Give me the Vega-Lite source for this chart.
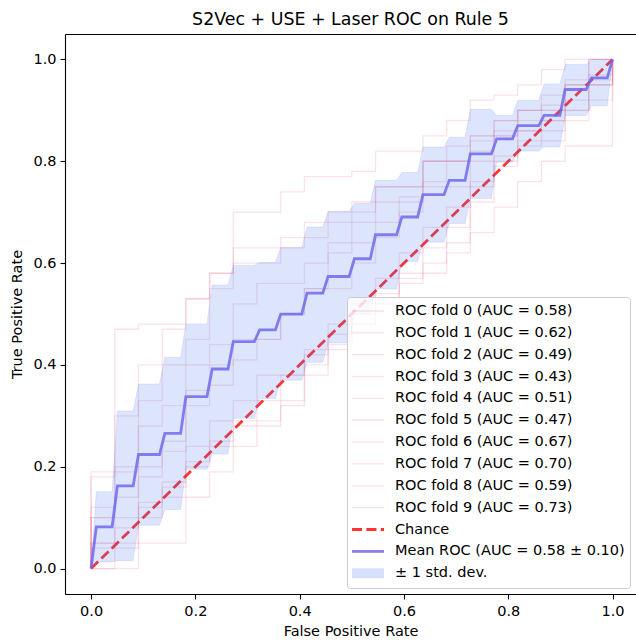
{
  "$schema": "https://vega.github.io/schema/vega-lite/v6.json",
  "width": 571,
  "height": 560,
  "autosize": "none",
  "padding": {"left": 65, "top": 34, "right": 0, "bottom": 46},
  "background": "white",
  "title": {"text": "S2Vec + USE + Laser ROC on Rule 5", "fontSize": 17.4, "font": "DejaVu Sans", "fontWeight": "normal", "color": "black", "anchor": "middle", "frame": "group", "baseline": "alphabetic", "offset": -8},
  "config": {
    "font": "DejaVu Sans",
    "view": {"stroke": null},
    "axis": {"grid": false, "tickSize": 5, "tickWidth": 1.1, "tickColor": "black", "domainColor": "black", "domainWidth": 1.1, "labelFontSize": 14.5, "titleFontSize": 14.5, "titleFontWeight": "normal", "labelColor": "black", "titleColor": "black", "labelPadding": 4, "titlePadding": 6, "labelFont": "DejaVu Sans", "titleFont": "DejaVu Sans"}
  },
  "datasets": {
    "folds": [
      {"f":"ROC fold 0 (AUC = 0.58)","i":0,"x":0,"y":0},{"f":"ROC fold 0 (AUC = 0.58)","i":1,"x":0,"y":0.10},{"f":"ROC fold 0 (AUC = 0.58)","i":2,"x":0.0455,"y":0.10},{"f":"ROC fold 0 (AUC = 0.58)","i":3,"x":0.0909,"y":0.20},{"f":"ROC fold 0 (AUC = 0.58)","i":4,"x":0.1364,"y":0.25},{"f":"ROC fold 0 (AUC = 0.58)","i":5,"x":0.1818,"y":0.35},{"f":"ROC fold 0 (AUC = 0.58)","i":6,"x":0.2273,"y":0.40},{"f":"ROC fold 0 (AUC = 0.58)","i":7,"x":0.2727,"y":0.45},{"f":"ROC fold 0 (AUC = 0.58)","i":8,"x":0.3182,"y":0.45},{"f":"ROC fold 0 (AUC = 0.58)","i":9,"x":0.3636,"y":0.50},{"f":"ROC fold 0 (AUC = 0.58)","i":10,"x":0.4091,"y":0.55},{"f":"ROC fold 0 (AUC = 0.58)","i":11,"x":0.4545,"y":0.55},{"f":"ROC fold 0 (AUC = 0.58)","i":12,"x":0.5,"y":0.60},{"f":"ROC fold 0 (AUC = 0.58)","i":13,"x":0.5455,"y":0.65},{"f":"ROC fold 0 (AUC = 0.58)","i":14,"x":0.5909,"y":0.70},{"f":"ROC fold 0 (AUC = 0.58)","i":15,"x":0.6364,"y":0.75},{"f":"ROC fold 0 (AUC = 0.58)","i":16,"x":0.6818,"y":0.75},{"f":"ROC fold 0 (AUC = 0.58)","i":17,"x":0.7273,"y":0.80},{"f":"ROC fold 0 (AUC = 0.58)","i":18,"x":0.7727,"y":0.85},{"f":"ROC fold 0 (AUC = 0.58)","i":19,"x":0.8182,"y":0.90},{"f":"ROC fold 0 (AUC = 0.58)","i":20,"x":0.8636,"y":0.90},{"f":"ROC fold 0 (AUC = 0.58)","i":21,"x":0.9091,"y":0.90},{"f":"ROC fold 0 (AUC = 0.58)","i":22,"x":0.9545,"y":0.95},{"f":"ROC fold 0 (AUC = 0.58)","i":23,"x":1,"y":1},
      {"f":"ROC fold 1 (AUC = 0.62)","i":0,"x":0,"y":0},{"f":"ROC fold 1 (AUC = 0.62)","i":1,"x":0,"y":0.12},{"f":"ROC fold 1 (AUC = 0.62)","i":2,"x":0.0455,"y":0.20},{"f":"ROC fold 1 (AUC = 0.62)","i":3,"x":0.0909,"y":0.28},{"f":"ROC fold 1 (AUC = 0.62)","i":4,"x":0.1364,"y":0.32},{"f":"ROC fold 1 (AUC = 0.62)","i":5,"x":0.1818,"y":0.40},{"f":"ROC fold 1 (AUC = 0.62)","i":6,"x":0.2273,"y":0.44},{"f":"ROC fold 1 (AUC = 0.62)","i":7,"x":0.2727,"y":0.52},{"f":"ROC fold 1 (AUC = 0.62)","i":8,"x":0.3182,"y":0.56},{"f":"ROC fold 1 (AUC = 0.62)","i":9,"x":0.3636,"y":0.56},{"f":"ROC fold 1 (AUC = 0.62)","i":10,"x":0.4091,"y":0.60},{"f":"ROC fold 1 (AUC = 0.62)","i":11,"x":0.4545,"y":0.64},{"f":"ROC fold 1 (AUC = 0.62)","i":12,"x":0.5,"y":0.68},{"f":"ROC fold 1 (AUC = 0.62)","i":13,"x":0.5455,"y":0.72},{"f":"ROC fold 1 (AUC = 0.62)","i":14,"x":0.5909,"y":0.72},{"f":"ROC fold 1 (AUC = 0.62)","i":15,"x":0.6364,"y":0.76},{"f":"ROC fold 1 (AUC = 0.62)","i":16,"x":0.6818,"y":0.80},{"f":"ROC fold 1 (AUC = 0.62)","i":17,"x":0.7273,"y":0.84},{"f":"ROC fold 1 (AUC = 0.62)","i":18,"x":0.7727,"y":0.88},{"f":"ROC fold 1 (AUC = 0.62)","i":19,"x":0.8182,"y":0.88},{"f":"ROC fold 1 (AUC = 0.62)","i":20,"x":0.8636,"y":0.88},{"f":"ROC fold 1 (AUC = 0.62)","i":21,"x":0.9091,"y":0.96},{"f":"ROC fold 1 (AUC = 0.62)","i":22,"x":0.9545,"y":1.0},{"f":"ROC fold 1 (AUC = 0.62)","i":23,"x":1,"y":1},
      {"f":"ROC fold 2 (AUC = 0.49)","i":0,"x":0,"y":0},{"f":"ROC fold 2 (AUC = 0.49)","i":1,"x":0,"y":0.04},{"f":"ROC fold 2 (AUC = 0.49)","i":2,"x":0.0455,"y":0.08},{"f":"ROC fold 2 (AUC = 0.49)","i":3,"x":0.0909,"y":0.13},{"f":"ROC fold 2 (AUC = 0.49)","i":4,"x":0.1364,"y":0.17},{"f":"ROC fold 2 (AUC = 0.49)","i":5,"x":0.1818,"y":0.21},{"f":"ROC fold 2 (AUC = 0.49)","i":6,"x":0.2273,"y":0.25},{"f":"ROC fold 2 (AUC = 0.49)","i":7,"x":0.2727,"y":0.29},{"f":"ROC fold 2 (AUC = 0.49)","i":8,"x":0.3182,"y":0.33},{"f":"ROC fold 2 (AUC = 0.49)","i":9,"x":0.3636,"y":0.38},{"f":"ROC fold 2 (AUC = 0.49)","i":10,"x":0.4091,"y":0.42},{"f":"ROC fold 2 (AUC = 0.49)","i":11,"x":0.4545,"y":0.46},{"f":"ROC fold 2 (AUC = 0.49)","i":12,"x":0.5,"y":0.50},{"f":"ROC fold 2 (AUC = 0.49)","i":13,"x":0.5455,"y":0.54},{"f":"ROC fold 2 (AUC = 0.49)","i":14,"x":0.5909,"y":0.58},{"f":"ROC fold 2 (AUC = 0.49)","i":15,"x":0.6364,"y":0.63},{"f":"ROC fold 2 (AUC = 0.49)","i":16,"x":0.6818,"y":0.67},{"f":"ROC fold 2 (AUC = 0.49)","i":17,"x":0.7273,"y":0.75},{"f":"ROC fold 2 (AUC = 0.49)","i":18,"x":0.7727,"y":0.79},{"f":"ROC fold 2 (AUC = 0.49)","i":19,"x":0.8182,"y":0.83},{"f":"ROC fold 2 (AUC = 0.49)","i":20,"x":0.8636,"y":0.88},{"f":"ROC fold 2 (AUC = 0.49)","i":21,"x":0.9091,"y":0.92},{"f":"ROC fold 2 (AUC = 0.49)","i":22,"x":0.9545,"y":0.96},{"f":"ROC fold 2 (AUC = 0.49)","i":23,"x":1,"y":1},
      {"f":"ROC fold 3 (AUC = 0.43)","i":0,"x":0,"y":0},{"f":"ROC fold 3 (AUC = 0.43)","i":1,"x":0,"y":0},{"f":"ROC fold 3 (AUC = 0.43)","i":2,"x":0.0455,"y":0},{"f":"ROC fold 3 (AUC = 0.43)","i":3,"x":0.0909,"y":0.05},{"f":"ROC fold 3 (AUC = 0.43)","i":4,"x":0.1364,"y":0.05},{"f":"ROC fold 3 (AUC = 0.43)","i":5,"x":0.1818,"y":0.14},{"f":"ROC fold 3 (AUC = 0.43)","i":6,"x":0.2273,"y":0.19},{"f":"ROC fold 3 (AUC = 0.43)","i":7,"x":0.2727,"y":0.24},{"f":"ROC fold 3 (AUC = 0.43)","i":8,"x":0.3182,"y":0.29},{"f":"ROC fold 3 (AUC = 0.43)","i":9,"x":0.3636,"y":0.33},{"f":"ROC fold 3 (AUC = 0.43)","i":10,"x":0.4091,"y":0.38},{"f":"ROC fold 3 (AUC = 0.43)","i":11,"x":0.4545,"y":0.43},{"f":"ROC fold 3 (AUC = 0.43)","i":12,"x":0.5,"y":0.48},{"f":"ROC fold 3 (AUC = 0.43)","i":13,"x":0.5455,"y":0.52},{"f":"ROC fold 3 (AUC = 0.43)","i":14,"x":0.5909,"y":0.57},{"f":"ROC fold 3 (AUC = 0.43)","i":15,"x":0.6364,"y":0.58},{"f":"ROC fold 3 (AUC = 0.43)","i":16,"x":0.6818,"y":0.62},{"f":"ROC fold 3 (AUC = 0.43)","i":17,"x":0.7273,"y":0.66},{"f":"ROC fold 3 (AUC = 0.43)","i":18,"x":0.7727,"y":0.71},{"f":"ROC fold 3 (AUC = 0.43)","i":19,"x":0.8182,"y":0.76},{"f":"ROC fold 3 (AUC = 0.43)","i":20,"x":0.8636,"y":0.80},{"f":"ROC fold 3 (AUC = 0.43)","i":21,"x":0.9091,"y":0.83},{"f":"ROC fold 3 (AUC = 0.43)","i":22,"x":0.9545,"y":0.83},{"f":"ROC fold 3 (AUC = 0.43)","i":23,"x":1,"y":1},
      {"f":"ROC fold 4 (AUC = 0.51)","i":0,"x":0,"y":0},{"f":"ROC fold 4 (AUC = 0.51)","i":1,"x":0,"y":0.05},{"f":"ROC fold 4 (AUC = 0.51)","i":2,"x":0.0455,"y":0.05},{"f":"ROC fold 4 (AUC = 0.51)","i":3,"x":0.0909,"y":0.10},{"f":"ROC fold 4 (AUC = 0.51)","i":4,"x":0.1364,"y":0.14},{"f":"ROC fold 4 (AUC = 0.51)","i":5,"x":0.1818,"y":0.24},{"f":"ROC fold 4 (AUC = 0.51)","i":6,"x":0.2273,"y":0.29},{"f":"ROC fold 4 (AUC = 0.51)","i":7,"x":0.2727,"y":0.33},{"f":"ROC fold 4 (AUC = 0.51)","i":8,"x":0.3182,"y":0.38},{"f":"ROC fold 4 (AUC = 0.51)","i":9,"x":0.3636,"y":0.38},{"f":"ROC fold 4 (AUC = 0.51)","i":10,"x":0.4091,"y":0.43},{"f":"ROC fold 4 (AUC = 0.51)","i":11,"x":0.4545,"y":0.48},{"f":"ROC fold 4 (AUC = 0.51)","i":12,"x":0.5,"y":0.52},{"f":"ROC fold 4 (AUC = 0.51)","i":13,"x":0.5455,"y":0.57},{"f":"ROC fold 4 (AUC = 0.51)","i":14,"x":0.5909,"y":0.62},{"f":"ROC fold 4 (AUC = 0.51)","i":15,"x":0.6364,"y":0.67},{"f":"ROC fold 4 (AUC = 0.51)","i":16,"x":0.6818,"y":0.71},{"f":"ROC fold 4 (AUC = 0.51)","i":17,"x":0.7273,"y":0.76},{"f":"ROC fold 4 (AUC = 0.51)","i":18,"x":0.7727,"y":0.81},{"f":"ROC fold 4 (AUC = 0.51)","i":19,"x":0.8182,"y":0.86},{"f":"ROC fold 4 (AUC = 0.51)","i":20,"x":0.8636,"y":0.86},{"f":"ROC fold 4 (AUC = 0.51)","i":21,"x":0.9091,"y":0.90},{"f":"ROC fold 4 (AUC = 0.51)","i":22,"x":0.9545,"y":0.95},{"f":"ROC fold 4 (AUC = 0.51)","i":23,"x":1,"y":1},
      {"f":"ROC fold 5 (AUC = 0.47)","i":0,"x":0,"y":0},{"f":"ROC fold 5 (AUC = 0.47)","i":1,"x":0,"y":0},{"f":"ROC fold 5 (AUC = 0.47)","i":2,"x":0.0455,"y":0.04},{"f":"ROC fold 5 (AUC = 0.47)","i":3,"x":0.0909,"y":0.12},{"f":"ROC fold 5 (AUC = 0.47)","i":4,"x":0.1364,"y":0.16},{"f":"ROC fold 5 (AUC = 0.47)","i":5,"x":0.1818,"y":0.20},{"f":"ROC fold 5 (AUC = 0.47)","i":6,"x":0.2273,"y":0.24},{"f":"ROC fold 5 (AUC = 0.47)","i":7,"x":0.2727,"y":0.28},{"f":"ROC fold 5 (AUC = 0.47)","i":8,"x":0.3182,"y":0.28},{"f":"ROC fold 5 (AUC = 0.47)","i":9,"x":0.3636,"y":0.32},{"f":"ROC fold 5 (AUC = 0.47)","i":10,"x":0.4091,"y":0.40},{"f":"ROC fold 5 (AUC = 0.47)","i":11,"x":0.4545,"y":0.44},{"f":"ROC fold 5 (AUC = 0.47)","i":12,"x":0.5,"y":0.48},{"f":"ROC fold 5 (AUC = 0.47)","i":13,"x":0.5455,"y":0.52},{"f":"ROC fold 5 (AUC = 0.47)","i":14,"x":0.5909,"y":0.56},{"f":"ROC fold 5 (AUC = 0.47)","i":15,"x":0.6364,"y":0.60},{"f":"ROC fold 5 (AUC = 0.47)","i":16,"x":0.6818,"y":0.64},{"f":"ROC fold 5 (AUC = 0.47)","i":17,"x":0.7273,"y":0.72},{"f":"ROC fold 5 (AUC = 0.47)","i":18,"x":0.7727,"y":0.80},{"f":"ROC fold 5 (AUC = 0.47)","i":19,"x":0.8182,"y":0.84},{"f":"ROC fold 5 (AUC = 0.47)","i":20,"x":0.8636,"y":0.84},{"f":"ROC fold 5 (AUC = 0.47)","i":21,"x":0.9091,"y":0.88},{"f":"ROC fold 5 (AUC = 0.47)","i":22,"x":0.9545,"y":0.92},{"f":"ROC fold 5 (AUC = 0.47)","i":23,"x":1,"y":1},
      {"f":"ROC fold 6 (AUC = 0.67)","i":0,"x":0,"y":0},{"f":"ROC fold 6 (AUC = 0.67)","i":1,"x":0,"y":0.10},{"f":"ROC fold 6 (AUC = 0.67)","i":2,"x":0.0455,"y":0.30},{"f":"ROC fold 6 (AUC = 0.67)","i":3,"x":0.0909,"y":0.40},{"f":"ROC fold 6 (AUC = 0.67)","i":4,"x":0.1364,"y":0.40},{"f":"ROC fold 6 (AUC = 0.67)","i":5,"x":0.1818,"y":0.45},{"f":"ROC fold 6 (AUC = 0.67)","i":6,"x":0.2273,"y":0.55},{"f":"ROC fold 6 (AUC = 0.67)","i":7,"x":0.2727,"y":0.60},{"f":"ROC fold 6 (AUC = 0.67)","i":8,"x":0.3182,"y":0.60},{"f":"ROC fold 6 (AUC = 0.67)","i":9,"x":0.3636,"y":0.65},{"f":"ROC fold 6 (AUC = 0.67)","i":10,"x":0.4091,"y":0.65},{"f":"ROC fold 6 (AUC = 0.67)","i":11,"x":0.4545,"y":0.70},{"f":"ROC fold 6 (AUC = 0.67)","i":12,"x":0.5,"y":0.70},{"f":"ROC fold 6 (AUC = 0.67)","i":13,"x":0.5455,"y":0.75},{"f":"ROC fold 6 (AUC = 0.67)","i":14,"x":0.5909,"y":0.75},{"f":"ROC fold 6 (AUC = 0.67)","i":15,"x":0.6364,"y":0.80},{"f":"ROC fold 6 (AUC = 0.67)","i":16,"x":0.6818,"y":0.80},{"f":"ROC fold 6 (AUC = 0.67)","i":17,"x":0.7273,"y":0.85},{"f":"ROC fold 6 (AUC = 0.67)","i":18,"x":0.7727,"y":0.85},{"f":"ROC fold 6 (AUC = 0.67)","i":19,"x":0.8182,"y":0.90},{"f":"ROC fold 6 (AUC = 0.67)","i":20,"x":0.8636,"y":0.90},{"f":"ROC fold 6 (AUC = 0.67)","i":21,"x":0.9091,"y":0.95},{"f":"ROC fold 6 (AUC = 0.67)","i":22,"x":0.9545,"y":0.95},{"f":"ROC fold 6 (AUC = 0.67)","i":23,"x":1,"y":1},
      {"f":"ROC fold 7 (AUC = 0.70)","i":0,"x":0,"y":0},{"f":"ROC fold 7 (AUC = 0.70)","i":1,"x":0,"y":0.18},{"f":"ROC fold 7 (AUC = 0.70)","i":2,"x":0.0455,"y":0.47},{"f":"ROC fold 7 (AUC = 0.70)","i":3,"x":0.0909,"y":0.48},{"f":"ROC fold 7 (AUC = 0.70)","i":4,"x":0.1364,"y":0.48},{"f":"ROC fold 7 (AUC = 0.70)","i":5,"x":0.1818,"y":0.53},{"f":"ROC fold 7 (AUC = 0.70)","i":6,"x":0.2273,"y":0.58},{"f":"ROC fold 7 (AUC = 0.70)","i":7,"x":0.2727,"y":0.63},{"f":"ROC fold 7 (AUC = 0.70)","i":8,"x":0.3182,"y":0.63},{"f":"ROC fold 7 (AUC = 0.70)","i":9,"x":0.3636,"y":0.63},{"f":"ROC fold 7 (AUC = 0.70)","i":10,"x":0.4091,"y":0.68},{"f":"ROC fold 7 (AUC = 0.70)","i":11,"x":0.4545,"y":0.68},{"f":"ROC fold 7 (AUC = 0.70)","i":12,"x":0.5,"y":0.72},{"f":"ROC fold 7 (AUC = 0.70)","i":13,"x":0.5455,"y":0.75},{"f":"ROC fold 7 (AUC = 0.70)","i":14,"x":0.5909,"y":0.75},{"f":"ROC fold 7 (AUC = 0.70)","i":15,"x":0.6364,"y":0.80},{"f":"ROC fold 7 (AUC = 0.70)","i":16,"x":0.6818,"y":0.83},{"f":"ROC fold 7 (AUC = 0.70)","i":17,"x":0.7273,"y":0.85},{"f":"ROC fold 7 (AUC = 0.70)","i":18,"x":0.7727,"y":0.88},{"f":"ROC fold 7 (AUC = 0.70)","i":19,"x":0.8182,"y":0.90},{"f":"ROC fold 7 (AUC = 0.70)","i":20,"x":0.8636,"y":0.93},{"f":"ROC fold 7 (AUC = 0.70)","i":21,"x":0.9091,"y":0.95},{"f":"ROC fold 7 (AUC = 0.70)","i":22,"x":0.9545,"y":0.97},{"f":"ROC fold 7 (AUC = 0.70)","i":23,"x":1,"y":1},
      {"f":"ROC fold 8 (AUC = 0.59)","i":0,"x":0,"y":0},{"f":"ROC fold 8 (AUC = 0.59)","i":1,"x":0,"y":0.05},{"f":"ROC fold 8 (AUC = 0.59)","i":2,"x":0.0455,"y":0.14},{"f":"ROC fold 8 (AUC = 0.59)","i":3,"x":0.0909,"y":0.18},{"f":"ROC fold 8 (AUC = 0.59)","i":4,"x":0.1364,"y":0.23},{"f":"ROC fold 8 (AUC = 0.59)","i":5,"x":0.1818,"y":0.32},{"f":"ROC fold 8 (AUC = 0.59)","i":6,"x":0.2273,"y":0.36},{"f":"ROC fold 8 (AUC = 0.59)","i":7,"x":0.2727,"y":0.41},{"f":"ROC fold 8 (AUC = 0.59)","i":8,"x":0.3182,"y":0.45},{"f":"ROC fold 8 (AUC = 0.59)","i":9,"x":0.3636,"y":0.50},{"f":"ROC fold 8 (AUC = 0.59)","i":10,"x":0.4091,"y":0.55},{"f":"ROC fold 8 (AUC = 0.59)","i":11,"x":0.4545,"y":0.62},{"f":"ROC fold 8 (AUC = 0.59)","i":12,"x":0.5,"y":0.64},{"f":"ROC fold 8 (AUC = 0.59)","i":13,"x":0.5455,"y":0.68},{"f":"ROC fold 8 (AUC = 0.59)","i":14,"x":0.5909,"y":0.73},{"f":"ROC fold 8 (AUC = 0.59)","i":15,"x":0.6364,"y":0.80},{"f":"ROC fold 8 (AUC = 0.59)","i":16,"x":0.6818,"y":0.80},{"f":"ROC fold 8 (AUC = 0.59)","i":17,"x":0.7273,"y":0.82},{"f":"ROC fold 8 (AUC = 0.59)","i":18,"x":0.7727,"y":0.86},{"f":"ROC fold 8 (AUC = 0.59)","i":19,"x":0.8182,"y":0.86},{"f":"ROC fold 8 (AUC = 0.59)","i":20,"x":0.8636,"y":0.91},{"f":"ROC fold 8 (AUC = 0.59)","i":21,"x":0.9091,"y":0.95},{"f":"ROC fold 8 (AUC = 0.59)","i":22,"x":0.9545,"y":1.0},{"f":"ROC fold 8 (AUC = 0.59)","i":23,"x":1,"y":1},
      {"f":"ROC fold 9 (AUC = 0.73)","i":0,"x":0,"y":0},{"f":"ROC fold 9 (AUC = 0.73)","i":1,"x":0,"y":0.19},{"f":"ROC fold 9 (AUC = 0.73)","i":2,"x":0.0455,"y":0.19},{"f":"ROC fold 9 (AUC = 0.73)","i":3,"x":0.0909,"y":0.33},{"f":"ROC fold 9 (AUC = 0.73)","i":4,"x":0.1364,"y":0.47},{"f":"ROC fold 9 (AUC = 0.73)","i":5,"x":0.1818,"y":0.53},{"f":"ROC fold 9 (AUC = 0.73)","i":6,"x":0.2273,"y":0.58},{"f":"ROC fold 9 (AUC = 0.73)","i":7,"x":0.2727,"y":0.70},{"f":"ROC fold 9 (AUC = 0.73)","i":8,"x":0.3182,"y":0.70},{"f":"ROC fold 9 (AUC = 0.73)","i":9,"x":0.3636,"y":0.74},{"f":"ROC fold 9 (AUC = 0.73)","i":10,"x":0.4091,"y":0.77},{"f":"ROC fold 9 (AUC = 0.73)","i":11,"x":0.4545,"y":0.77},{"f":"ROC fold 9 (AUC = 0.73)","i":12,"x":0.5,"y":0.78},{"f":"ROC fold 9 (AUC = 0.73)","i":13,"x":0.5455,"y":0.82},{"f":"ROC fold 9 (AUC = 0.73)","i":14,"x":0.5909,"y":0.82},{"f":"ROC fold 9 (AUC = 0.73)","i":15,"x":0.6364,"y":0.85},{"f":"ROC fold 9 (AUC = 0.73)","i":16,"x":0.6818,"y":0.88},{"f":"ROC fold 9 (AUC = 0.73)","i":17,"x":0.7273,"y":0.92},{"f":"ROC fold 9 (AUC = 0.73)","i":18,"x":0.7727,"y":0.93},{"f":"ROC fold 9 (AUC = 0.73)","i":19,"x":0.8182,"y":0.95},{"f":"ROC fold 9 (AUC = 0.73)","i":20,"x":0.8636,"y":0.98},{"f":"ROC fold 9 (AUC = 0.73)","i":21,"x":0.9091,"y":1.0},{"f":"ROC fold 9 (AUC = 0.73)","i":22,"x":0.9545,"y":1.0},{"f":"ROC fold 9 (AUC = 0.73)","i":23,"x":1,"y":1}
    ],
    "mean": [
      {"x":0,"y":0},{"x":0.0101,"y":0.082},{"x":0.0404,"y":0.082},{"x":0.0505,"y":0.1625},{"x":0.0808,"y":0.1625},{"x":0.0909,"y":0.224},{"x":0.1313,"y":0.224},{"x":0.1414,"y":0.2656},{"x":0.1717,"y":0.2656},{"x":0.1818,"y":0.3376},{"x":0.2222,"y":0.3376},{"x":0.2323,"y":0.392},{"x":0.2626,"y":0.392},{"x":0.2727,"y":0.4458},{"x":0.3131,"y":0.4458},{"x":0.3232,"y":0.4688},{"x":0.3535,"y":0.4688},{"x":0.3636,"y":0.4997},{"x":0.404,"y":0.4997},{"x":0.4141,"y":0.541},{"x":0.4444,"y":0.541},{"x":0.4545,"y":0.5737},{"x":0.4949,"y":0.5737},{"x":0.5051,"y":0.6085},{"x":0.5354,"y":0.6085},{"x":0.5455,"y":0.6557},{"x":0.5859,"y":0.6557},{"x":0.596,"y":0.6905},{"x":0.6263,"y":0.6905},{"x":0.6364,"y":0.7344},{"x":0.6768,"y":0.7344},{"x":0.6869,"y":0.7626},{"x":0.7172,"y":0.7626},{"x":0.7273,"y":0.8145},{"x":0.7677,"y":0.8145},{"x":0.7778,"y":0.844},{"x":0.8081,"y":0.844},{"x":0.8182,"y":0.87},{"x":0.8586,"y":0.87},{"x":0.8687,"y":0.89},{"x":0.899,"y":0.89},{"x":0.9091,"y":0.941},{"x":0.9495,"y":0.941},{"x":0.9596,"y":0.964},{"x":0.9899,"y":0.964},{"x":1,"y":1}
    ],
    "band": [
      {"x":0,"lo":0,"hi":0},{"x":0.0101,"lo":0.013,"hi":0.151},{"x":0.0404,"lo":0.013,"hi":0.151},{"x":0.0505,"lo":0.0155,"hi":0.3095},{"x":0.0808,"lo":0.0155,"hi":0.3095},{"x":0.0909,"lo":0.085,"hi":0.3626},{"x":0.1313,"lo":0.085,"hi":0.3626},{"x":0.1414,"lo":0.116,"hi":0.415},{"x":0.1717,"lo":0.116,"hi":0.415},{"x":0.1818,"lo":0.195,"hi":0.4806},{"x":0.2222,"lo":0.195,"hi":0.4806},{"x":0.2323,"lo":0.225,"hi":0.557},{"x":0.2626,"lo":0.225,"hi":0.557},{"x":0.2727,"lo":0.295,"hi":0.5953},{"x":0.3131,"lo":0.295,"hi":0.5953},{"x":0.3232,"lo":0.334,"hi":0.601},{"x":0.3535,"lo":0.334,"hi":0.601},{"x":0.3636,"lo":0.37,"hi":0.6308},{"x":0.404,"lo":0.37,"hi":0.6308},{"x":0.4141,"lo":0.405,"hi":0.6708},{"x":0.4444,"lo":0.405,"hi":0.6708},{"x":0.4545,"lo":0.443,"hi":0.7016},{"x":0.4949,"lo":0.443,"hi":0.7016},{"x":0.5051,"lo":0.5,"hi":0.717},{"x":0.5354,"lo":0.5,"hi":0.717},{"x":0.5455,"lo":0.549,"hi":0.7626},{"x":0.5859,"lo":0.549,"hi":0.7626},{"x":0.596,"lo":0.603,"hi":0.778},{"x":0.6263,"lo":0.603,"hi":0.778},{"x":0.6364,"lo":0.641,"hi":0.828},{"x":0.6768,"lo":0.641,"hi":0.828},{"x":0.6869,"lo":0.678,"hi":0.847},{"x":0.7172,"lo":0.678,"hi":0.847},{"x":0.7273,"lo":0.727,"hi":0.902},{"x":0.7677,"lo":0.727,"hi":0.902},{"x":0.7778,"lo":0.798,"hi":0.89},{"x":0.8081,"lo":0.798,"hi":0.89},{"x":0.8182,"lo":0.82,"hi":0.92},{"x":0.8586,"lo":0.82,"hi":0.92},{"x":0.8687,"lo":0.828,"hi":0.952},{"x":0.899,"lo":0.828,"hi":0.952},{"x":0.9091,"lo":0.89,"hi":0.99},{"x":0.9495,"lo":0.89,"hi":0.99},{"x":0.9596,"lo":0.909,"hi":1.0},{"x":0.9899,"lo":0.909,"hi":1.0},{"x":1,"lo":1,"hi":1}
    ],
    "chance": [{"x":0,"y":0},{"x":1,"y":1}]
  },
  "resolve": {"axis": {"x": "independent", "y": "independent"}},
  "layer": [
    {
      "data": {"name": "folds"},
      "mark": {"type": "line", "interpolate": "step-after"},
      "encoding": {
        "x": {"field": "x", "type": "quantitative", "scale": {"domain": [-0.05, 1.045], "nice": false, "zero": false}, "axis": null},
        "y": {"field": "y", "type": "quantitative", "scale": {"domain": [-0.05, 1.05], "nice": false, "zero": false}, "axis": null},
        "order": {"field": "i", "type": "quantitative"},
        "color": {
          "field": "f", "type": "nominal",
          "scale": {
            "domain": ["ROC fold 0 (AUC = 0.58)","ROC fold 1 (AUC = 0.62)","ROC fold 2 (AUC = 0.49)","ROC fold 3 (AUC = 0.43)","ROC fold 4 (AUC = 0.51)","ROC fold 5 (AUC = 0.47)","ROC fold 6 (AUC = 0.67)","ROC fold 7 (AUC = 0.70)","ROC fold 8 (AUC = 0.59)","ROC fold 9 (AUC = 0.73)","Chance","Mean ROC (AUC = 0.58 ± 0.10)","± 1 std. dev."],
            "range": ["#e8537a","#e8537a","#e8537a","#e8537a","#e8537a","#e8537a","#e8537a","#e8537a","#e8537a","#e8537a","#ff0000","#7b68ee","#3f6ff0"]
          },
          "legend": {
            "title": null, "orient": "none", "legendX": 282, "legendY": 263,
            "symbolType": "M-4,0H4", "symbolSize": 64, "symbolOffset": 7,
            "labelFont": "DejaVu Sans", "labelFontSize": 14.5, "labelColor": "black", "labelLimit": 400,
            "labelOffset": 18, "rowPadding": 3.85, "padding": 5, "clipHeight": 18,
            "fillColor": "rgba(255,255,255,0.8)", "strokeColor": "#cccccc", "cornerRadius": 3
          }
        },
        "strokeDash": {
          "field": "f", "type": "nominal",
          "scale": {
            "type": "ordinal",
            "domain": ["ROC fold 0 (AUC = 0.58)","ROC fold 1 (AUC = 0.62)","ROC fold 2 (AUC = 0.49)","ROC fold 3 (AUC = 0.43)","ROC fold 4 (AUC = 0.51)","ROC fold 5 (AUC = 0.47)","ROC fold 6 (AUC = 0.67)","ROC fold 7 (AUC = 0.70)","ROC fold 8 (AUC = 0.59)","ROC fold 9 (AUC = 0.73)","Chance","Mean ROC (AUC = 0.58 ± 0.10)","± 1 std. dev."],
            "range": [[1,0],[1,0],[1,0],[1,0],[1,0],[1,0],[1,0],[1,0],[1,0],[1,0],[10,4.4],[1,0],[1,0]]
          }
        },
        "strokeWidth": {
          "field": "f", "type": "nominal",
          "scale": {
            "type": "ordinal",
            "domain": ["ROC fold 0 (AUC = 0.58)","ROC fold 1 (AUC = 0.62)","ROC fold 2 (AUC = 0.49)","ROC fold 3 (AUC = 0.43)","ROC fold 4 (AUC = 0.51)","ROC fold 5 (AUC = 0.47)","ROC fold 6 (AUC = 0.67)","ROC fold 7 (AUC = 0.70)","ROC fold 8 (AUC = 0.59)","ROC fold 9 (AUC = 0.73)","Chance","Mean ROC (AUC = 0.58 ± 0.10)","± 1 std. dev."],
            "range": [1.3,1.3,1.3,1.3,1.3,1.3,1.3,1.3,1.3,1.3,2.8,2.8,10]
          }
        },
        "opacity": {
          "field": "f", "type": "nominal",
          "scale": {
            "type": "ordinal",
            "domain": ["ROC fold 0 (AUC = 0.58)","ROC fold 1 (AUC = 0.62)","ROC fold 2 (AUC = 0.49)","ROC fold 3 (AUC = 0.43)","ROC fold 4 (AUC = 0.51)","ROC fold 5 (AUC = 0.47)","ROC fold 6 (AUC = 0.67)","ROC fold 7 (AUC = 0.70)","ROC fold 8 (AUC = 0.59)","ROC fold 9 (AUC = 0.73)","Chance","Mean ROC (AUC = 0.58 ± 0.10)","± 1 std. dev."],
            "range": [0.17,0.17,0.17,0.17,0.17,0.17,0.17,0.17,0.17,0.17,0.8,0.85,0.2]
          }
        }
      }
    },
    {
      "data": {"name": "chance"},
      "mark": {"type": "line", "strokeWidth": 2.8, "strokeDash": [10, 4.4], "opacity": 0.8},
      "encoding": {
        "x": {"field": "x", "type": "quantitative", "scale": {"domain": [-0.05, 1.045], "nice": false, "zero": false}, "axis": {"orient": "top", "labels": false, "ticks": false, "title": null, "domain": true}},
        "y": {"field": "y", "type": "quantitative", "scale": {"domain": [-0.05, 1.05], "nice": false, "zero": false}, "axis": null},
        "color": {"datum": "Chance", "legend": null}
      }
    },
    {
      "data": {"name": "mean"},
      "mark": {"type": "line", "strokeWidth": 2.8, "opacity": 0.85},
      "encoding": {
        "x": {"field": "x", "type": "quantitative", "scale": {"domain": [-0.05, 1.045], "nice": false, "zero": false}, "axis": null},
        "y": {"field": "y", "type": "quantitative", "scale": {"domain": [-0.05, 1.05], "nice": false, "zero": false}, "axis": null},
        "color": {"datum": "Mean ROC (AUC = 0.58 ± 0.10)", "legend": null}
      }
    },
    {
      "data": {"name": "band"},
      "mark": {"type": "area", "fillOpacity": 0.18, "stroke": "#3f6ff0", "strokeWidth": 1, "strokeOpacity": 0.12},
      "encoding": {
        "x": {"field": "x", "type": "quantitative", "scale": {"domain": [-0.05, 1.045], "nice": false, "zero": false}, "axis": {"values": [0, 0.2, 0.4, 0.6, 0.8, 1.0], "format": ".1f", "title": "False Positive Rate", "labelPadding": 5.5}},
        "y": {"field": "hi", "type": "quantitative", "scale": {"domain": [-0.05, 1.05], "nice": false, "zero": false}, "axis": {"values": [0, 0.2, 0.4, 0.6, 0.8, 1.0], "format": ".1f", "title": "True Positive Rate", "titlePadding": 8}},
        "y2": {"field": "lo"},
        "color": {"datum": "± 1 std. dev.", "legend": null}
      }
    }
  ]
}
